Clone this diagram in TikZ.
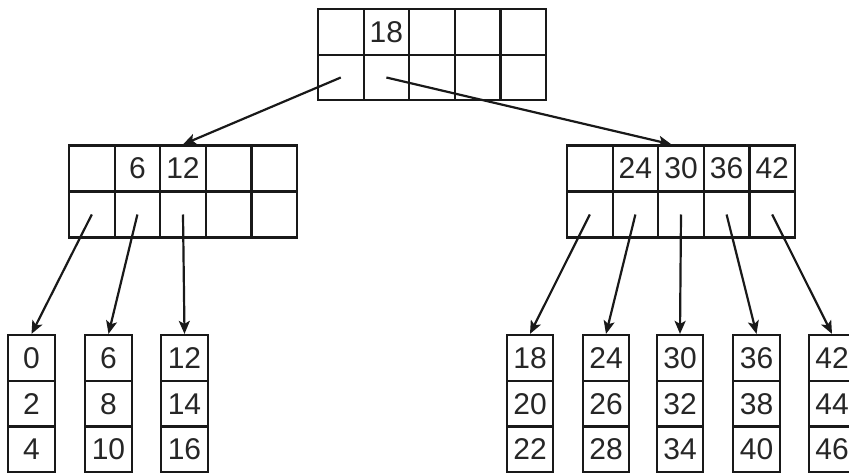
\documentclass[tikz,border=0pt]{standalone}
\usepackage{fontspec}
\setmainfont{Liberation Sans}
\usetikzlibrary{arrows.meta,calc}
\tikzset{
  cell/.style={draw=black!90, line width=2.2pt, minimum width=45.6pt, minimum height=45.5pt,
    inner sep=0pt, font=\fontsize{30}{32}\selectfont, text=black!85},
  leafcell/.style={cell, minimum width=46.5pt, minimum height=46pt},
  ptr/.style={draw=black!90, line width=2.2pt, -{Stealth[length=13pt,width=11pt,inset=3pt]}},
}
\begin{document}
\begin{tikzpicture}[x=1pt,y=-1pt]
\useasboundingbox (0,0) rectangle (849,473);
\clip (0,0) rectangle (849,473);
% root node
\foreach \k [count=\i from 0] in {{},18,{},{},{}} {
  \node[cell] (t\i) at (340.8+45.6*\i,32) {\k};
  \node[cell] (tp\i) at (340.8+45.6*\i,77.5) {};
}
% left inner node
\foreach \k [count=\i from 0] in {{},6,12,{},{}} {
  \node[cell, minimum height=46pt] (l\i) at (91.8+45.6*\i,168.5) {\k};
  \node[cell, minimum height=46pt] (lp\i) at (91.8+45.6*\i,214.5) {};
}
% right inner node
\foreach \k [count=\i from 0] in {{},24,30,36,42} {
  \node[cell, minimum height=46pt] (r\i) at (589.8+45.6*\i,168.5) {\k};
  \node[cell, minimum height=46pt] (rp\i) at (589.8+45.6*\i,214.5) {};
}
% leaves
\foreach \x/\a/\b/\c [count=\j] in {31.5/0/2/4, 108.5/6/8/10, 184.5/12/14/16,
    530/18/20/22, 606/24/26/28, 680/30/32/34, 756.5/36/38/40, 832/42/44/46} {
  \node[leafcell] (a\j) at (\x,358) {\a};
  \node[leafcell] (b\j) at (\x,404) {\b};
  \node[leafcell] (c\j) at (\x,449.5) {\c};
}
% pointers
\draw[ptr] (tp0.center) -- (l2.north);
\draw[ptr] (tp1.center) -- ($(r2.north west)!0.3!(r2.north east)$);
\foreach \i/\j in {0/1,1/2,2/3}
  \draw[ptr] (lp\i.center) -- (a\j.north);
\foreach \i/\j in {0/4,1/5,2/6,3/7,4/8}
  \draw[ptr] (rp\i.center) -- (a\j.north);
\end{tikzpicture}
\end{document}
